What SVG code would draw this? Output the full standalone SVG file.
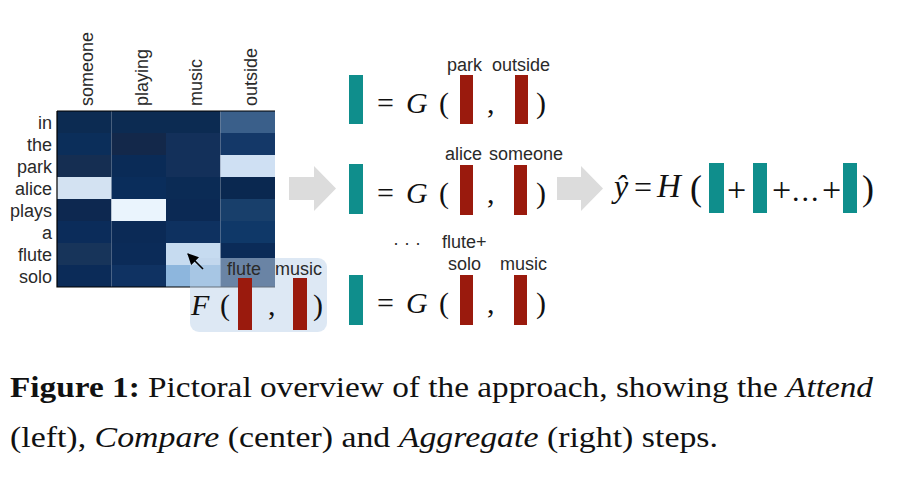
<svg xmlns="http://www.w3.org/2000/svg" width="903" height="477" viewBox="0 0 903 477">
<style>
.lbl{font-family:"Liberation Sans",Arial,sans-serif;font-size:18px;fill:#2a2a2a}
.math{font-family:"Liberation Serif","Times New Roman",serif;font-size:30px;fill:#111}
.it{font-style:italic}
.teal{fill:#0f8e8c}
.red{fill:#9a1a0d}
.cap{font-family:"Liberation Serif","Times New Roman",serif;font-size:30px;fill:#111}
.garrow{fill:#dcdcdc}
</style>
<defs>
<marker id="ah" viewBox="0 0 10 10" refX="9" refY="5" markerWidth="7" markerHeight="7" orient="auto">
<path d="M0,0 L10,5 L0,10 z" fill="#000"/>
</marker>
</defs>
<g id="heatmap">
<rect x="57" y="111" width="54.5" height="22" fill="#0c2b52"/>
<rect x="111.5" y="111" width="54.5" height="22" fill="#0c2b52"/>
<rect x="166" y="111" width="54.5" height="22" fill="#0c2b52"/>
<rect x="220.5" y="111" width="54.5" height="22" fill="#3a5f8a"/>
<rect x="57" y="133" width="54.5" height="22" fill="#0b2e5a"/>
<rect x="111.5" y="133" width="54.5" height="22" fill="#13284a"/>
<rect x="166" y="133" width="54.5" height="22" fill="#13305a"/>
<rect x="220.5" y="133" width="54.5" height="22" fill="#143868"/>
<rect x="57" y="155" width="54.5" height="22" fill="#152e52"/>
<rect x="111.5" y="155" width="54.5" height="22" fill="#0a2b57"/>
<rect x="166" y="155" width="54.5" height="22" fill="#13305a"/>
<rect x="220.5" y="155" width="54.5" height="22" fill="#cfe0f3"/>
<rect x="57" y="177" width="54.5" height="22" fill="#d3e2f2"/>
<rect x="111.5" y="177" width="54.5" height="22" fill="#0a2d5b"/>
<rect x="166" y="177" width="54.5" height="22" fill="#0b2b55"/>
<rect x="220.5" y="177" width="54.5" height="22" fill="#0a2850"/>
<rect x="57" y="199" width="54.5" height="22" fill="#0d2850"/>
<rect x="111.5" y="199" width="54.5" height="22" fill="#eaf4fd"/>
<rect x="166" y="199" width="54.5" height="22" fill="#0b2954"/>
<rect x="220.5" y="199" width="54.5" height="22" fill="#183f6b"/>
<rect x="57" y="221" width="54.5" height="22" fill="#0b2c5a"/>
<rect x="111.5" y="221" width="54.5" height="22" fill="#0b2a56"/>
<rect x="166" y="221" width="54.5" height="22" fill="#0e3160"/>
<rect x="220.5" y="221" width="54.5" height="22" fill="#0f3868"/>
<rect x="57" y="243" width="54.5" height="22" fill="#17345a"/>
<rect x="111.5" y="243" width="54.5" height="22" fill="#0b2b58"/>
<rect x="166" y="243" width="54.5" height="22" fill="#c6dbf0"/>
<rect x="220.5" y="243" width="54.5" height="22" fill="#0b2b58"/>
<rect x="57" y="265" width="54.5" height="22" fill="#0b2b58"/>
<rect x="111.5" y="265" width="54.5" height="22" fill="#0f3262"/>
<rect x="166" y="265" width="54.5" height="22" fill="#8db6dd"/>
<rect x="220.5" y="265" width="54.5" height="22" fill="#0b2b58"/>
<path d="M57,111 L57,287 L275,287" fill="none" stroke="#000" stroke-width="1.2"/>
<path d="M57,111 L275,111" fill="none" stroke="#000" stroke-width="1"/>
<g class="lbl" text-anchor="end">
<text x="52" y="129">in</text>
<text x="52" y="151">the</text>
<text x="52" y="173">park</text>
<text x="52" y="195">alice</text>
<text x="52" y="217">plays</text>
<text x="52" y="239">a</text>
<text x="52" y="261">flute</text>
<text x="52" y="283">solo</text>
</g>
<g class="lbl">
<text transform="translate(93,106) rotate(-90)">someone</text>
<text transform="translate(147.5,106) rotate(-90)">playing</text>
<text transform="translate(202,106) rotate(-90)">music</text>
<text transform="translate(257,106) rotate(-90)">outside</text>
</g>
</g>
<g id="attend-F">
<rect x="190" y="258" width="137" height="74" rx="9" fill="#bfd3ea" fill-opacity="0.53"/>
<text class="lbl" x="227" y="275">flute</text>
<text class="lbl" x="275" y="275">music</text>
<text class="math it" x="191" y="315">F</text>
<text class="math" x="220" y="315">(</text>
<rect class="red" x="238" y="278" width="14" height="52"/>
<text class="math" x="268" y="315">,</text>
<rect class="red" x="293" y="278" width="14" height="52"/>
<text class="math" x="313" y="315">)</text>
</g>
<g id="connectors">
<line x1="203" y1="269" x2="188" y2="254" stroke="#000" stroke-width="1.6" marker-end="url(#ah)"/>
<path class="garrow" d="M289,177 L314,177 L314,166 L336,188.5 L314,211 L314,200 L289,200 z"/>
<path class="garrow" d="M557,177 L581,177 L581,166 L603,188.5 L581,211 L581,200 L557,200 z"/>
</g>
<g id="compare-1">
<rect class="teal" x="349" y="75" width="14" height="49"/>
<text class="math" x="377" y="113">=</text>
<text class="math it" x="406" y="113">G</text>
<text class="math" x="439" y="113">(</text>
<text class="lbl" x="447" y="71">park</text>
<text class="lbl" x="492" y="71">outside</text>
<rect class="red" x="460" y="75" width="13" height="49"/>
<text class="math" x="487" y="113">,</text>
<rect class="red" x="515" y="75" width="13" height="49"/>
<text class="math" x="536" y="113">)</text>
</g>
<g id="compare-2">
<rect class="teal" x="349" y="164" width="14" height="50"/>
<text class="math" x="377" y="203">=</text>
<text class="math it" x="406" y="203">G</text>
<text class="math" x="439" y="203">(</text>
<text class="lbl" x="445" y="160">alice</text>
<text class="lbl" x="489" y="160">someone</text>
<rect class="red" x="460" y="165" width="13" height="50"/>
<text class="math" x="487" y="203">,</text>
<rect class="red" x="514" y="165" width="13" height="50"/>
<text class="math" x="536" y="203">)</text>
</g>
<g id="dots">
<text class="lbl" x="393" y="249">· · ·</text>
</g>
<g id="compare-3">
<rect class="teal" x="349" y="275" width="14" height="50"/>
<text class="math" x="377" y="313">=</text>
<text class="math it" x="406" y="313">G</text>
<text class="math" x="439" y="313">(</text>
<text class="lbl" x="442" y="248">flute+</text>
<text class="lbl" x="448" y="270">solo</text>
<text class="lbl" x="500" y="270">music</text>
<rect class="red" x="460" y="275" width="13" height="50"/>
<text class="math" x="487" y="313">,</text>
<rect class="red" x="514" y="275" width="13" height="50"/>
<text class="math" x="536" y="313">)</text>
</g>
<g id="aggregate-H">
<text class="math it" x="614" y="197" style="font-size:32px">ŷ</text>
<text class="math" x="634" y="198" style="font-size:32px">=</text>
<text class="math it" x="657" y="197" style="font-size:33px">H</text>
<text class="math" x="690" y="200" style="font-size:36px">(</text>
<rect class="teal" x="709" y="163" width="15" height="50"/>
<text class="math" x="727" y="201" style="font-size:34px">+</text>
<rect class="teal" x="753" y="163" width="14" height="50"/>
<text class="math" x="772" y="201" style="font-size:34px">+</text>
<text class="math" x="792" y="201" style="font-size:30px;letter-spacing:2px">...</text>
<text class="math" x="822" y="201" style="font-size:34px">+</text>
<rect class="teal" x="843" y="163" width="14" height="50"/>
<text class="math" x="862" y="200" style="font-size:36px">)</text>
</g>
<g id="caption" class="cap">
<text x="10" y="397" textLength="863" lengthAdjust="spacingAndGlyphs"><tspan font-weight="bold">Figure 1:</tspan> Pictoral overview of the approach, showing the <tspan font-style="italic">Attend</tspan></text>
<text x="10" y="447" textLength="708" lengthAdjust="spacingAndGlyphs">(left), <tspan font-style="italic">Compare</tspan> (center) and <tspan font-style="italic">Aggregate</tspan> (right) steps.</text>
</g>
</svg>
